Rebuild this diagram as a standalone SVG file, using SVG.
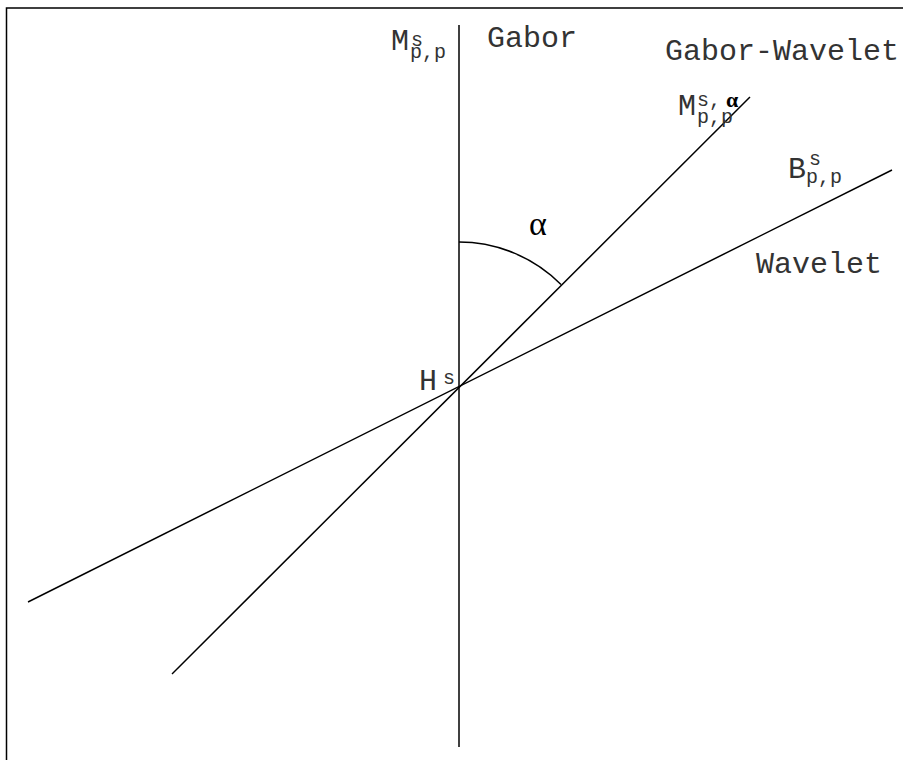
<svg xmlns="http://www.w3.org/2000/svg" width="903" height="760" viewBox="0 0 903 760">
<style>
.ln{stroke:#000;stroke-width:1.5;fill:none}
.t{font-family:"Liberation Mono","DejaVu Sans Mono",monospace;fill:#333;font-size:30px}
.s{font-size:20px}
.g{font-family:"Liberation Serif","DejaVu Serif",serif;fill:#000}
</style>
<rect width="903" height="760" fill="#fff"/>
<path class="ln" d="M6.5,760 V8 H903"/>
<g id="connectors">
<line class="ln" x1="459" y1="25" x2="459" y2="747"/>
<line class="ln" x1="172" y1="674" x2="750" y2="97"/>
<line class="ln" x1="28" y1="602" x2="892" y2="170"/>
<path class="ln" d="M459,242 A144,144 0 0 1 561,284.5"/>
</g>
<g id="gabor"><text class="t" x="487" y="47">Gabor</text></g>
<g id="gabor-wavelet"><text class="t" x="665" y="60">Gabor-Wavelet</text></g>
<g id="wavelet"><text class="t" x="756" y="273">Wavelet</text></g>
<g id="alpha"><text class="g" x="529" y="235" font-size="34">α</text></g>
<g id="M-label"><text class="t" x="391" y="50">M<tspan class="s" x="411" y="46">s</tspan><tspan class="s" x="410" y="58">p,p</tspan></text></g>
<g id="H-label"><text class="t" x="419" y="390">H<tspan class="s" x="443" y="384">s</tspan></text></g>
<g id="Malpha-label"><text class="t" x="678" y="115">M<tspan class="s" x="697" y="106">s,</tspan><tspan class="s" x="697" y="123">p,p</tspan></text><text class="g" x="726" y="107" font-size="22" font-weight="bold">α</text></g>
<g id="B-label"><text class="t" x="788" y="178">B<tspan class="s" x="809" y="165">s</tspan><tspan class="s" x="806" y="183">p,p</tspan></text></g>
</svg>
